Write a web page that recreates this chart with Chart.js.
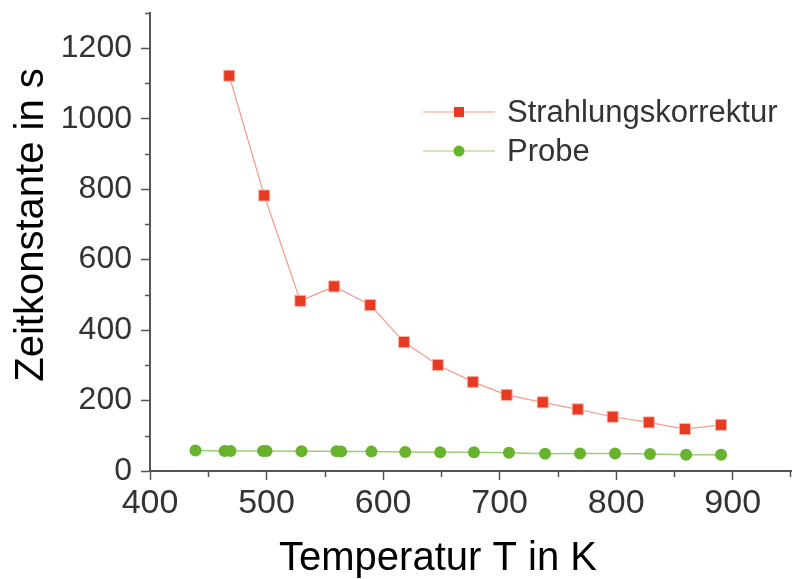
<!DOCTYPE html>
<html>
<head>
<meta charset="utf-8">
<script src="https://cdn.jsdelivr.net/npm/chart.js@4.4.1/dist/chart.umd.min.js"></script>
<style>
  html, body { margin: 0; padding: 0; background: #fff; }
  #c { display: block; }
</style>
</head>
<body>
<canvas id="c" width="792" height="579"></canvas>
<script>
// Temperatur T in K und Zeitkonstante in s
const tempKorrektur = [468, 498, 529, 558, 589, 618, 647, 677, 706, 737, 767, 797, 828, 859, 890];
const tauKorrektur  = [1122, 782, 483, 524, 471, 366, 301, 253, 216, 195, 175, 154, 138, 119, 131];

const tempProbe = [439, 464, 469, 497, 500, 530, 560, 564, 590, 619, 649, 678, 708, 739, 769, 799, 829, 860, 890];
const tauProbe  = [58, 57, 57, 57, 57, 56, 56, 55, 55, 54, 53, 53, 52, 49, 50, 50, 48, 46, 46];

const seriesNames = ['Strahlungskorrektur', 'Probe'];
const xTitle = 'Temperatur T in K';
const yTitle = 'Zeitkonstante in s';

const xRange = [400, 950];
const yRange = [0, 1300];
const xMajorStep = 100;
const yMajorStep = 200;

const FONT = '"Liberation Sans", Arial, sans-serif';
const RED = '#e63b22';
const RED_LINE = 'rgba(240,120,100,0.75)';
const GREEN = '#67b32e';
const GREEN_LINE = 'rgba(120,190,70,0.75)';
const AXIS = '#555';

const toPoints = (xs, ys) => xs.map((x, i) => ({ x, y: ys[i] }));
const plainNumber = v => String(v);

// minor ticks, axis titles and the legend box
const decorations = {
  id: 'decorations',
  afterDraw(chart) {
    const ctx = chart.ctx;
    const xs = chart.scales.x, ys = chart.scales.y;
    const area = chart.chartArea;
    ctx.save();
    ctx.strokeStyle = AXIS;
    ctx.lineWidth = 1.5;
    ctx.beginPath();
    for (let v = xRange[0] + xMajorStep / 2; v <= xRange[1]; v += xMajorStep) {
      const px = Math.min(Math.round(xs.getPixelForValue(v)) + 0.5, area.right - 0.5);
      ctx.moveTo(px, area.bottom);
      ctx.lineTo(px, area.bottom + 6);
    }
    for (let v = yRange[0] + yMajorStep / 2; v <= yRange[1]; v += yMajorStep) {
      const py = Math.max(Math.round(ys.getPixelForValue(v)) + 0.5, area.top + 0.5);
      ctx.moveTo(area.left, py);
      ctx.lineTo(area.left - 5, py);
    }
    ctx.stroke();

    // axis titles
    ctx.fillStyle = '#000';
    ctx.font = '40px ' + FONT;
    ctx.textAlign = 'center';
    ctx.textBaseline = 'alphabetic';
    ctx.fillText(xTitle, 438, 570);
    ctx.save();
    ctx.translate(43, 225);
    ctx.rotate(-Math.PI / 2);
    ctx.fillText(yTitle, 0, 0);
    ctx.restore();

    // legend
    const entries = [
      { text: seriesNames[0], y: 112, line: RED_LINE, fill: RED, style: 'rect' },
      { text: seriesNames[1], y: 151, line: GREEN_LINE, fill: GREEN, style: 'circle' }
    ];
    ctx.font = '31px ' + FONT;
    ctx.textAlign = 'left';
    ctx.textBaseline = 'middle';
    entries.forEach(e => {
      ctx.strokeStyle = e.line;
      ctx.lineWidth = 1.2;
      ctx.beginPath();
      ctx.moveTo(423, e.y);
      ctx.lineTo(495, e.y);
      ctx.stroke();
      ctx.fillStyle = e.fill;
      if (e.style === 'rect') {
        ctx.fillRect(459 - 5, e.y - 5, 10, 10);
      } else {
        ctx.beginPath();
        ctx.arc(459, e.y, 5.5, 0, Math.PI * 2);
        ctx.fill();
      }
      ctx.fillStyle = '#333';
      ctx.fillText(e.text, 507, e.y + 1);
    });
    ctx.restore();
  }
};

new Chart(document.getElementById('c'), {
  type: 'scatter',
  data: {
    datasets: [
      {
        label: seriesNames[0],
        data: toPoints(tempKorrektur, tauKorrektur),
        showLine: true,
        borderColor: RED_LINE,
        borderWidth: 1.2,
        backgroundColor: RED,
        pointStyle: 'rect',
        pointRadius: 7.8,
        pointBorderColor: 'rgba(250,180,165,0.9)',
        pointBorderWidth: 1,
        pointHoverRadius: 7.8
      },
      {
        label: seriesNames[1],
        data: toPoints(tempProbe, tauProbe),
        showLine: true,
        borderColor: GREEN_LINE,
        borderWidth: 1.5,
        backgroundColor: GREEN,
        pointStyle: 'circle',
        pointRadius: 6,
        pointBorderColor: GREEN,
        pointBorderWidth: 0,
        pointHoverRadius: 6
      }
    ]
  },
  options: {
    responsive: false,
    animation: false,
    devicePixelRatio: 1,
    layout: { autoPadding: false, padding: { top: 13, right: 1, left: 0, bottom: 0 } },
    plugins: { legend: { display: false }, tooltip: { enabled: false } },
    scales: {
      x: {
        type: 'linear',
        min: xRange[0],
        max: xRange[1],
        afterFit: s => { s.height = 108; s.paddingLeft = 0; s.paddingRight = 0; },
        border: { display: true, color: AXIS, width: 2 },
        grid: { drawOnChartArea: false, drawTicks: true, tickLength: 9, tickColor: AXIS, tickWidth: 1.5 },
        ticks: {
          stepSize: xMajorStep,
          includeBounds: false,
          padding: 3,
          color: '#333',
          font: { family: FONT, size: 34 },
          maxRotation: 0,
          callback: plainNumber
        }
      },
      y: {
        type: 'linear',
        min: yRange[0],
        max: yRange[1],
        afterFit: s => { s.width = 150; s.paddingTop = 0; s.paddingBottom = 0; },
        border: { display: true, color: AXIS, width: 2 },
        grid: { drawOnChartArea: false, drawTicks: true, tickLength: 9, tickColor: AXIS, tickWidth: 1.5 },
        ticks: {
          stepSize: yMajorStep,
          includeBounds: false,
          padding: 9,
          color: '#333',
          font: { family: FONT, size: 32 },
          callback: plainNumber
        }
      }
    }
  },
  plugins: [decorations]
});
</script>
</body>
</html>
